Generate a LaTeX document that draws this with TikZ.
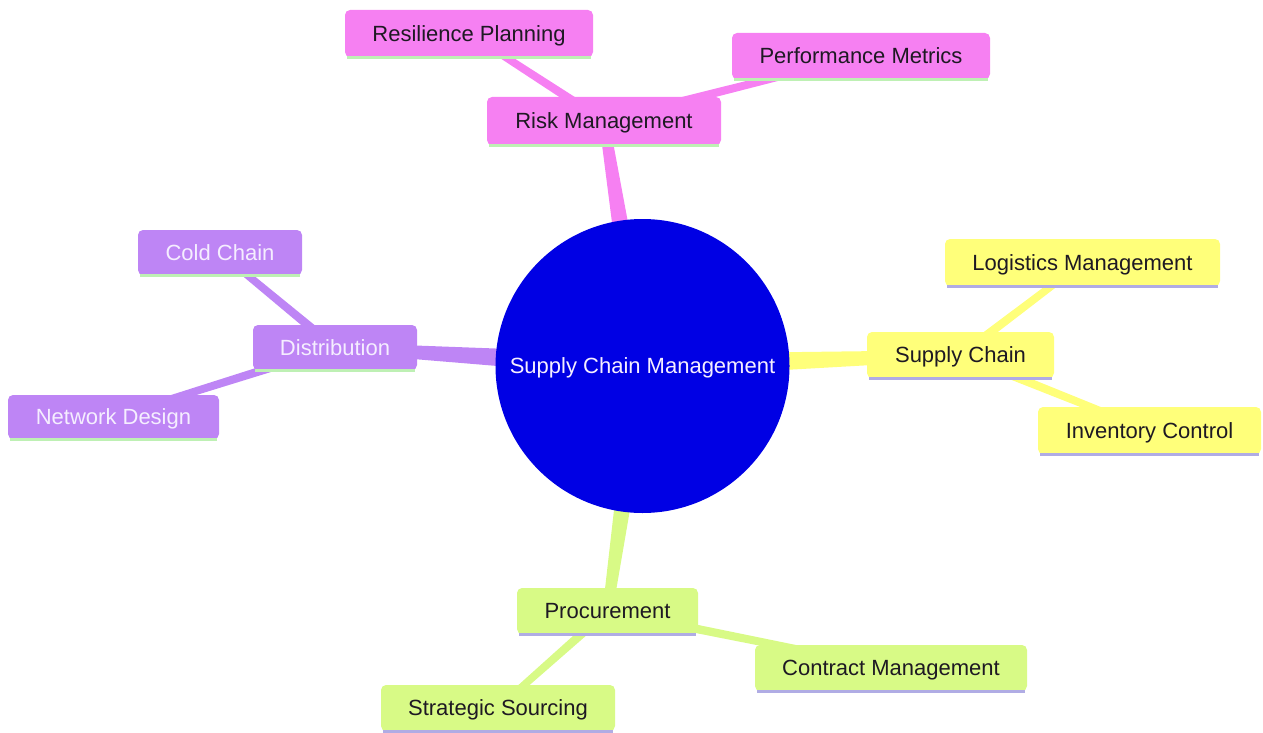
\documentclass[tikz,border=0pt]{standalone}
\usepackage{fontspec}
\setmainfont{Liberation Sans}
\usetikzlibrary{calc,backgrounds}
\definecolor{rootblue}{RGB}{0,0,228}
\definecolor{pinkf}{RGB}{246,128,242}
\definecolor{yellowf}{RGB}{255,255,122}
\definecolor{greenf}{RGB}{216,250,134}
\definecolor{purplef}{RGB}{190,133,245}
\definecolor{ulgreen}{RGB}{190,240,180}
\definecolor{ullav}{RGB}{176,172,228}
\definecolor{darktext}{RGB}{30,25,35}
\definecolor{lighttext}{RGB}{245,238,255}
\newcommand\taper[5]{\fill[#1] ($(#2.center)!#4!90:(#3.center)$) -- ($(#3.center)!#5!-90:(#2.center)$) -- ($(#3.center)!#5!90:(#2.center)$) -- ($(#2.center)!#4!-90:(#3.center)$) -- cycle;}
\tikzset{
  box/.style={rectangle, rounded corners=5pt, inner sep=0pt, font=\fontsize{22}{26}\selectfont, text height=15.5pt, text depth=0pt},
  pinkbox/.style={box, fill=pinkf, text=darktext},
  yellowbox/.style={box, fill=yellowf, text=darktext},
  greenbox/.style={box, fill=greenf, text=darktext},
  purplebox/.style={box, fill=purplef, text=lighttext},
  ulg/.style={draw=ulgreen, line width=3pt},
  ull/.style={draw=ullav, line width=3pt},
}
\newcommand\uline[2]{\draw[#1] ([xshift=2pt,yshift=-0.5pt]#2.south west) -- ([xshift=-2pt,yshift=-0.5pt]#2.south east);}
\begin{document}
\begin{tikzpicture}[x=1pt,y=-1pt]
\useasboundingbox (0,0) rectangle (1263,733);
% root
\node[circle, fill=rootblue, minimum size=294pt, inner sep=0pt, text=lighttext, font=\fontsize{22}{26}\selectfont, text height=15.5pt, text depth=0pt] (root) at (642.5,366) {Supply Chain Management};
% risk
\node[pinkbox, minimum width=234pt, minimum height=48pt] (risk) at (604,121) {Risk Management};
\node[pinkbox, minimum width=248pt, minimum height=47pt] (res) at (469,33.5) {Resilience Planning};
\node[pinkbox, minimum width=258pt, minimum height=46pt] (perf) at (861,56) {Performance Metrics};
% supply chain
\node[yellowbox, minimum width=187pt, minimum height=46pt] (sc) at (960.5,355) {Supply Chain};
\node[yellowbox, minimum width=275pt, minimum height=47pt] (log) at (1082.5,262.5) {Logistics Management};
\node[yellowbox, minimum width=223pt, minimum height=47pt] (inv) at (1149.5,430.5) {Inventory Control};
% procurement
\node[greenbox, minimum width=181pt, minimum height=46pt] (proc) at (607.5,611) {Procurement};
\node[greenbox, minimum width=272pt, minimum height=46pt] (con) at (891,668) {Contract Management};
\node[greenbox, minimum width=234pt, minimum height=46pt] (strat) at (498,708) {Strategic Sourcing};
% distribution
\node[purplebox, minimum width=164pt, minimum height=45pt] (dist) at (335,347.5) {Distribution};
\node[purplebox, minimum width=164pt, minimum height=45pt] (cold) at (220,252.5) {Cold Chain};
\node[purplebox, minimum width=211pt, minimum height=44pt] (net) at (113.5,417) {Network Design};
% underlines
\uline{ulg}{risk}\uline{ulg}{res}\uline{ulg}{perf}
\uline{ull}{sc}\uline{ull}{log}\uline{ull}{inv}
\uline{ull}{proc}\uline{ull}{con}\uline{ull}{strat}
\uline{ulg}{dist}\uline{ulg}{cold}\uline{ulg}{net}
\begin{pgfonlayer}{background}
\taper{pinkf}{root}{risk}{12pt}{5pt}
\taper{yellowf}{root}{sc}{12pt}{5pt}
\taper{greenf}{root}{proc}{12pt}{5pt}
\taper{purplef}{root}{dist}{12pt}{5pt}
\taper{pinkf}{risk}{res}{4.5pt}{3.5pt}
\taper{pinkf}{risk}{perf}{4.5pt}{3.5pt}
\taper{yellowf}{sc}{log}{4.5pt}{3.5pt}
\taper{yellowf}{sc}{inv}{4.5pt}{3.5pt}
\taper{greenf}{proc}{con}{4.5pt}{3.5pt}
\taper{greenf}{proc}{strat}{4.5pt}{3.5pt}
\taper{purplef}{dist}{cold}{4.5pt}{3.5pt}
\taper{purplef}{dist}{net}{4.5pt}{3.5pt}
\end{pgfonlayer}
\end{tikzpicture}
\end{document}
